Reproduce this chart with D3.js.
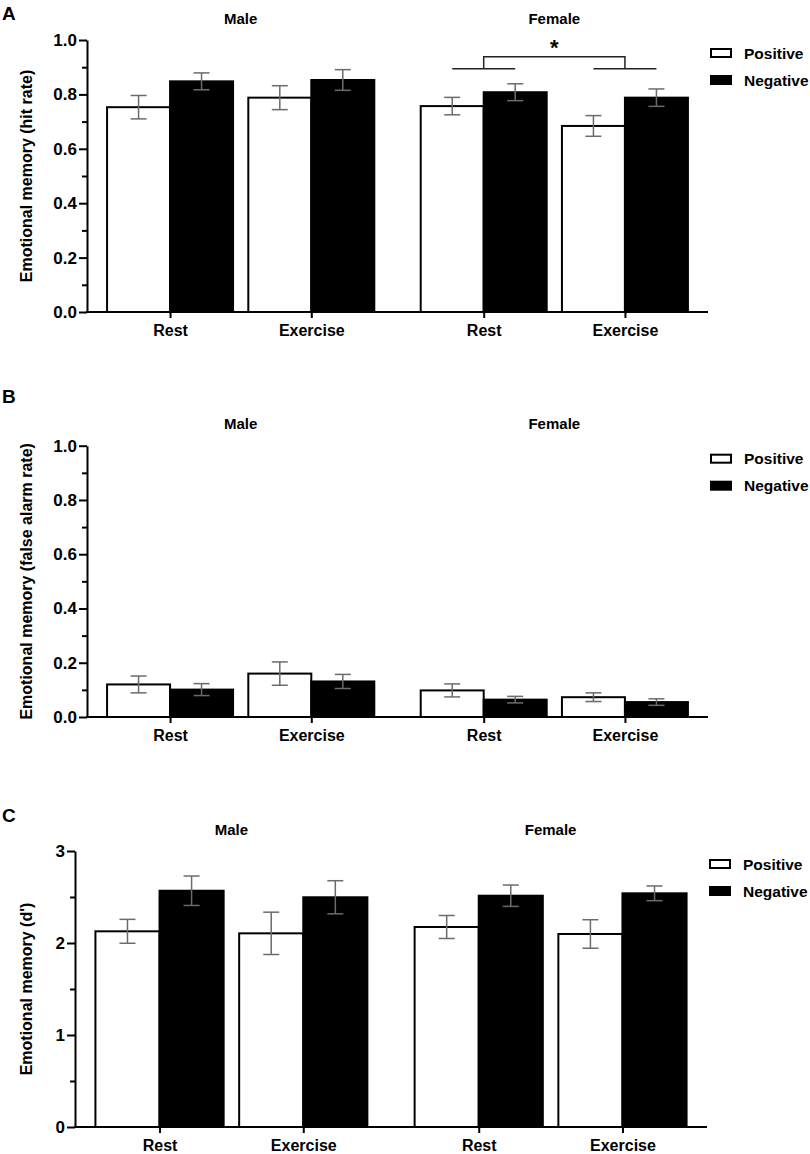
<!DOCTYPE html>
<html>
<head>
<meta charset="utf-8">
<script src="https://cdn.jsdelivr.net/npm/d3@7"></script>
<style>
  body { margin: 0; background: #fff; }
  text { font-family: "Liberation Sans", Arial, sans-serif; font-weight: bold; fill: #000; }
</style>
</head>
<body>
<div id="chart"></div>
<script>
var sexes = ["Male", "Female"];
var conditions = ["Rest", "Exercise"];
var valences = ["Positive", "Negative"];

// order: Male Rest Pos, Male Rest Neg, Male Ex Pos, Male Ex Neg, then same for Female
var hitMean = [0.753, 0.848, 0.788, 0.853, 0.757, 0.808, 0.684, 0.788];
var hitErr  = [0.043, 0.031, 0.044, 0.038, 0.032, 0.031, 0.038, 0.032];

var faMean = [0.120, 0.101, 0.160, 0.131, 0.098, 0.064, 0.073, 0.055];
var faErr  = [0.031, 0.022, 0.043, 0.026, 0.024, 0.012, 0.016, 0.012];

var dMean = [2.127, 2.568, 2.105, 2.497, 2.174, 2.514, 2.098, 2.540];
var dErr  = [0.130, 0.160, 0.230, 0.180, 0.125, 0.116, 0.155, 0.080];

var rateTicks = [0, 0.2, 0.4, 0.6, 0.8, 1.0];
var rateMinor = [0.1, 0.3, 0.5, 0.7, 0.9];
var dTicks = [0, 1, 2, 3];
var dMinor = [0.5, 1.5, 2.5];

var svg = d3.select("#chart").append("svg")
    .attr("width", 810)
    .attr("height", 1154);

function rows(means, errs) {
  var out = [];
  var k = 0;
  sexes.forEach(function(s) {
    conditions.forEach(function(c) {
      valences.forEach(function(v) {
        out.push({sex: s, cond: c, val: v, mean: means[k], err: errs[k]});
        k++;
      });
    });
  });
  return out;
}

function drawPanel(p) {
  var g = svg.append("g");
  var data = rows(p.means, p.errs);

  var y = d3.scaleLinear().domain(p.domain).range([p.bottom, p.top]);
  var xSex = d3.scaleBand().domain(sexes).range([p.left, p.right])
      .paddingInner(0.148).paddingOuter(0.064);
  var xCond = d3.scaleBand().domain(conditions).range([0, xSex.bandwidth()])
      .paddingInner(0.108);
  var xVal = d3.scaleBand().domain(valences).range([0, xCond.bandwidth()]);

  function barX(d) { return xSex(d.sex) + xCond(d.cond) + xVal(d.val); }
  function barMid(d) { return barX(d) + xVal.bandwidth() / 2; }

  // bars
  g.selectAll("rect.bar")
    .data(data)
    .enter()
    .append("rect")
    .attr("class", "bar")
    .attr("x", barX)
    .attr("y", function(d) { return y(d.mean); })
    .attr("width", xVal.bandwidth())
    .attr("height", function(d) { return y(0) - y(d.mean); })
    .style("fill", function(d) { return d.val == "Positive" ? "#fff" : "#000"; })
    .attr("stroke", "#000")
    .attr("stroke-width", 2);

  // error bars
  var eb = g.selectAll("g.err")
    .data(data)
    .enter()
    .append("g")
    .attr("class", "err")
    .attr("stroke", "#6b6b6b")
    .attr("stroke-width", 1.5);
  eb.append("line")
    .attr("x1", barMid).attr("x2", barMid)
    .attr("y1", function(d) { return y(d.mean - d.err); })
    .attr("y2", function(d) { return y(d.mean + d.err); });
  eb.append("line")
    .attr("x1", function(d) { return barMid(d) - 8; })
    .attr("x2", function(d) { return barMid(d) + 8; })
    .attr("y1", function(d) { return y(d.mean + d.err); })
    .attr("y2", function(d) { return y(d.mean + d.err); });
  eb.append("line")
    .attr("x1", function(d) { return barMid(d) - 8; })
    .attr("x2", function(d) { return barMid(d) + 8; })
    .attr("y1", function(d) { return y(d.mean - d.err); })
    .attr("y2", function(d) { return y(d.mean - d.err); });

  // y axis, major and minor ticks
  var yAx = g.append("g")
    .attr("transform", "translate(" + p.left + ",0)")
    .call(d3.axisLeft(y).tickValues(p.ticks).tickSize(8).tickSizeOuter(0)
      .tickPadding(2).tickFormat(p.fmt));
  var yMin = g.append("g")
    .attr("transform", "translate(" + p.left + ",0)")
    .call(d3.axisLeft(y).tickValues(p.minor).tickSize(5).tickFormat(""));
  yMin.select(".domain").remove();
  yAx.selectAll("text").style("font-size", "17px");

  // x axis: ticks at condition centres
  var keys = [], pos = [];
  sexes.forEach(function(s) {
    conditions.forEach(function(c) {
      keys.push(s + "|" + c);
      pos.push(xSex(s) + xCond(c) + xCond.bandwidth() / 2);
    });
  });
  var xTick = d3.scaleOrdinal().domain(keys).range(pos);
  var xAx = g.append("g")
    .attr("transform", "translate(0," + p.bottom + ")")
    .call(d3.axisBottom(xTick).tickSize(6).tickPadding(7)
      .tickFormat(function(k) { return k.split("|")[1]; }));
  xAx.select(".domain").remove();
  xAx.selectAll("text").style("font-size", "16px");
  g.append("line")
    .attr("x1", p.left - 1).attr("x2", p.right)
    .attr("y1", p.bottom).attr("y2", p.bottom)
    .attr("stroke", "#000").attr("stroke-width", 2);

  g.selectAll(".tick line").attr("stroke", "#000").attr("stroke-width", 2);
  g.selectAll(".domain").attr("stroke", "#000").attr("stroke-width", 2);

  // group titles
  g.selectAll("text.sex")
    .data(sexes)
    .enter()
    .append("text")
    .attr("class", "sex")
    .attr("x", function(s) { return xSex(s) + xSex.bandwidth() / 2; })
    .attr("y", p.top - 16.5)
    .attr("text-anchor", "middle")
    .style("font-size", "15px")
    .text(function(s) { return s; });

  // y label
  g.append("text")
    .attr("transform", "translate(26," + ((p.top + p.bottom) / 2) + ") rotate(-90)")
    .attr("dy", "0.35em")
    .attr("text-anchor", "middle")
    .style("font-size", "16px")
    .text(p.ylabel);

  // panel letter
  g.append("text")
    .attr("x", 2)
    .attr("y", p.letterY)
    .style("font-size", "19px")
    .text(p.letter);

  // legend
  var lg = g.selectAll("g.leg")
    .data(valences)
    .enter()
    .append("g")
    .attr("class", "leg")
    .attr("transform", function(v, i) {
      return "translate(" + (p.right + 3) + "," + (p.top + 13 + i * 27) + ")";
    });
  lg.append("rect")
    .attr("x", 0).attr("y", -4)
    .attr("width", 20).attr("height", 8)
    .style("fill", function(v) { return v == "Positive" ? "#fff" : "#000"; })
    .attr("stroke", "#000")
    .attr("stroke-width", 2);
  lg.append("text")
    .attr("x", 33)
    .attr("dy", "0.36em")
    .style("font-size", "15.5px")
    .text(function(v) { return v; });

  // significance bracket
  if (p.sig) {
    var s = p.sig;
    var a = data.filter(function(d) { return d.sex == s.sex && d.cond == s.from; });
    var b = data.filter(function(d) { return d.sex == s.sex && d.cond == s.to; });
    var lo = y(s.low), hi = y(s.high);
    var ca = xSex(s.sex) + xCond(s.from) + xCond.bandwidth() / 2;
    var cb = xSex(s.sex) + xCond(s.to) + xCond.bandwidth() / 2;
    var bg = g.append("g").attr("stroke", "#222").attr("stroke-width", 1.5).attr("fill", "none");
    bg.append("line").attr("x1", barMid(a[0])).attr("x2", barMid(a[1])).attr("y1", lo).attr("y2", lo);
    bg.append("line").attr("x1", barMid(b[0])).attr("x2", barMid(b[1])).attr("y1", lo).attr("y2", lo);
    bg.append("path")
      .attr("d", "M" + ca + "," + lo + "V" + hi + "H" + cb + "V" + lo);
    g.append("text")
      .attr("x", (ca + cb) / 2)
      .attr("y", hi - 1.5)
      .attr("text-anchor", "middle")
      .style("font-size", "22px")
      .text("*");
  }
}

var fmt1 = d3.format(".1f");

drawPanel({
  letter: "A", letterY: 20,
  left: 87, right: 708, top: 40, bottom: 312,
  domain: [0, 1], ticks: rateTicks, minor: rateMinor, fmt: fmt1,
  means: hitMean, errs: hitErr,
  ylabel: "Emotional memory (hit rate)",
  sig: {sex: "Female", from: "Rest", to: "Exercise", low: 0.894, high: 0.938}
});

drawPanel({
  letter: "B", letterY: 403,
  left: 87, right: 708, top: 445.7, bottom: 717,
  domain: [0, 1], ticks: rateTicks, minor: rateMinor, fmt: fmt1,
  means: faMean, errs: faErr,
  ylabel: "Emotional memory (false alarm rate)"
});

drawPanel({
  letter: "C", letterY: 822,
  left: 75, right: 707, top: 851, bottom: 1127,
  domain: [0, 3], ticks: dTicks, minor: dMinor, fmt: d3.format("d"),
  means: dMean, errs: dErr,
  ylabel: "Emotional memory (d')"
});
</script>
</body>
</html>
